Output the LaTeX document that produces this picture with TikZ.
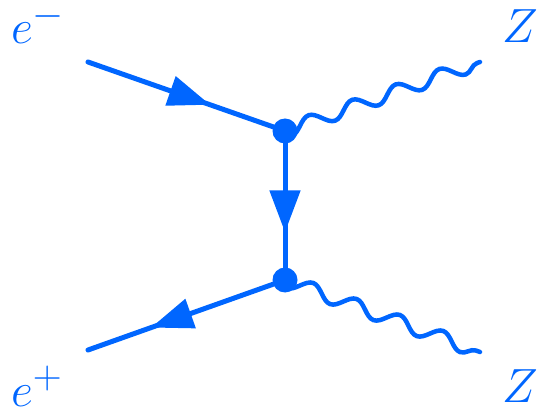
\documentclass[tikz,border=0pt]{standalone}
\usepackage{graphicx}
\usetikzlibrary{calc,decorations.pathmorphing,decorations.markings,arrows.meta}
\definecolor{fblue}{RGB}{0,102,255}
\newcommand{\biglab}[1]{\scalebox{1.93}{\Huge$#1$}}
\tikzset{
  fermion/.style={line width=5pt,line cap=round,fblue,postaction={decorate},
    decoration={markings,mark=at position #1 with {\arrow{Triangle[length=42pt,width=30pt]}}}},
  photon/.style={line width=4.5pt,line cap=round,fblue,decorate,
    decoration={snake,segment length=46.2pt,amplitude=-7pt}},
  vdot/.style={circle,fill=fblue,inner sep=0pt,minimum size=25pt},
  lab/.style={text=fblue,inner sep=0pt}
}
\begin{document}
\begin{tikzpicture}[x=1pt,y=-1pt]
\useasboundingbox (0,0) rectangle (540,411);
\coordinate (a) at (88,62);
\coordinate (b) at (88,350);
\coordinate (za) at (480,62);
\coordinate (zb) at (480,352);
\coordinate (v1) at (285,131);
\coordinate (v2) at (285,280);
\coordinate (s1) at ($(v1)!-10pt!(za)$);
\coordinate (s2) at ($(v2)!-10pt!(zb)$);
\draw[fermion=0.62] (a) -- (v1);
\draw[fermion=0.68] (v1) -- (v2);
\draw[fermion=0.68] (v2) -- (b);
\draw[photon] (s1) -- (za);
\draw[photon] (s2) -- (zb);
\node[vdot] (d1) at (v1) {};
\node[vdot] (d2) at (v2) {};
\node[lab,anchor=base west] (em) at (11,44) {\biglab{e^-}};
\node[lab,anchor=base west] (ep) at (11,406) {\biglab{e^+}};
\node[lab,anchor=base east] (z1) at (538,43) {\biglab{Z}};
\node[lab,anchor=base east] (z2) at (538,402) {\biglab{Z}};
\end{tikzpicture}
\end{document}
